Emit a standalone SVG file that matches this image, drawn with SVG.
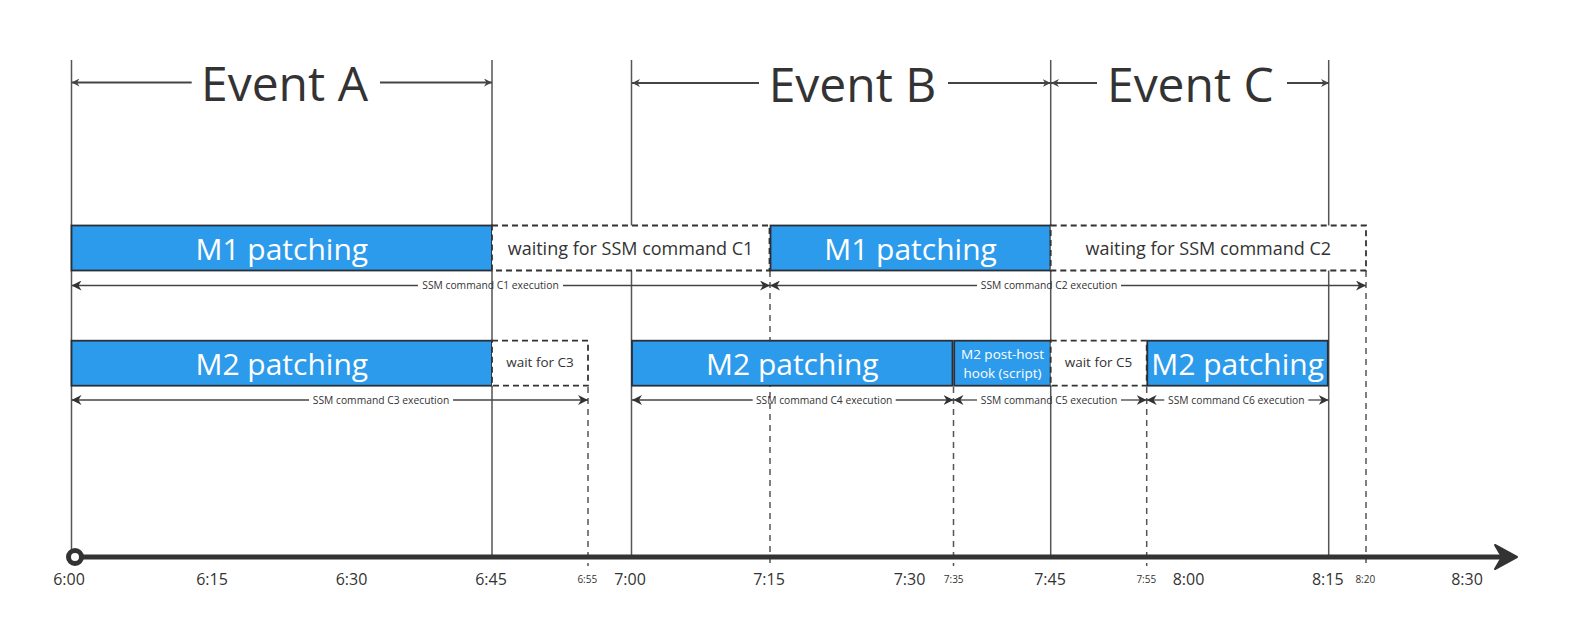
<svg xmlns="http://www.w3.org/2000/svg" width="1578" height="633" viewBox="0 0 1578 633">
<style>
text{font-family:"Open Sans","Noto Sans",sans-serif;fill:#333}
.ev{font-size:48px;text-anchor:middle}
.big{font-size:30px;fill:#fff;text-anchor:middle}
.wait{font-size:18px;text-anchor:middle}
.sm{font-size:13.5px;text-anchor:middle}
.hook{font-size:13.5px;fill:#fff;text-anchor:middle}
.dl{font-size:10.3px;text-anchor:middle}
.tk{font-size:16px;text-anchor:middle}
.tks{font-size:10px;text-anchor:middle}
.solid{stroke:#555;stroke-width:1.5;fill:none}
.dash{stroke:#555;stroke-width:1.5;stroke-dasharray:6 5;fill:none}
.blue{fill:#2d9bec;stroke:#2a2f36;stroke-width:1.8}
.dbox{fill:#fff;stroke:#333;stroke-width:1.8;stroke-dasharray:6 4}
.hd{stroke:#444;stroke-width:1.8;fill:none}
.dim{stroke:#444;stroke-width:1.3;fill:none}
</style>
<defs>
<marker id="ah" markerUnits="userSpaceOnUse" markerWidth="10" markerHeight="10" refX="10" refY="5" orient="auto-start-reverse" viewBox="0 0 10 10">
<path d="M0,0 L10,5 L0,10 L3,5 Z" fill="#333"/>
</marker>
<marker id="hh" markerUnits="userSpaceOnUse" markerWidth="8" markerHeight="8" refX="8" refY="4" orient="auto-start-reverse" viewBox="0 0 8 8">
<path d="M0,0 L8,4 L0,8 L2.5,4 Z" fill="#444"/>
</marker>
</defs>
<rect width="1578" height="633" fill="#fff"/>

<g id="gridlines">
<line class="solid" x1="71.5" y1="60" x2="71.5" y2="555"/>
<line class="solid" x1="492" y1="60" x2="492" y2="555"/>
<line class="solid" x1="631.5" y1="60" x2="631.5" y2="555"/>
<line class="solid" x1="1050.7" y1="60" x2="1050.7" y2="555"/>
<line class="solid" x1="1328.7" y1="60" x2="1328.7" y2="555"/>
<line class="dash" x1="588" y1="387" x2="588" y2="566"/>
<line class="dash" x1="770" y1="271" x2="770" y2="566"/>
<line class="dash" x1="953.5" y1="387" x2="953.5" y2="566"/>
<line class="dash" x1="1146.7" y1="387" x2="1146.7" y2="566"/>
<line class="dash" x1="1366" y1="271" x2="1366" y2="566"/>
</g>

<g id="eventA">
<line class="hd" x1="191.7" y1="82.5" x2="71.5" y2="82.5" marker-end="url(#hh)"/>
<line class="hd" x1="380" y1="82.5" x2="492" y2="82.5" marker-end="url(#hh)"/>
<text class="ev" x="284.5" y="100.5">Event A</text>
</g>
<g id="eventB">
<line class="hd" x1="759" y1="83" x2="632" y2="83" marker-end="url(#hh)"/>
<line class="hd" x1="948" y1="83" x2="1050.7" y2="83" marker-end="url(#hh)"/>
<text class="ev" x="852.5" y="101.5">Event B</text>
</g>
<g id="eventC">
<line class="hd" x1="1097" y1="83" x2="1051" y2="83" marker-end="url(#hh)"/>
<line class="hd" x1="1287" y1="83" x2="1329" y2="83" marker-end="url(#hh)"/>
<text class="ev" x="1190.4" y="101.5">Event C</text>
</g>

<g id="m1-patch-1">
<rect class="blue" x="71.5" y="225.5" width="420.5" height="45"/>
<text class="big" x="281.75" y="260">M1 patching</text>
</g>
<g id="wait-c1">
<rect class="dbox" x="492" y="225.5" width="277.5" height="45"/>
<text class="wait" x="630.5" y="255">waiting for SSM command C1</text>
</g>
<g id="m1-patch-2">
<rect class="blue" x="770.5" y="225.5" width="280" height="45"/>
<text class="big" x="910.5" y="260">M1 patching</text>
</g>
<g id="wait-c2">
<rect class="dbox" x="1050.7" y="225.5" width="315.3" height="45"/>
<text class="wait" x="1208.3" y="255">waiting for SSM command C2</text>
</g>

<g id="m2-patch-1">
<rect class="blue" x="71.5" y="340.7" width="420.5" height="45"/>
<text class="big" x="281.75" y="375">M2 patching</text>
</g>
<g id="wait-c3">
<rect class="dbox" x="492" y="340.7" width="96" height="45"/>
<text class="sm" x="540" y="367.3">wait for C3</text>
</g>
<g id="m2-patch-2">
<rect class="blue" x="632" y="340.7" width="320.5" height="45"/>
<text class="big" x="792.3" y="375">M2 patching</text>
</g>
<g id="m2-hook">
<rect class="blue" x="954.2" y="340.7" width="96.5" height="45"/>
<text class="hook" x="1002.5" y="359">M2 post-host</text>
<text class="hook" x="1002.5" y="377.7">hook (script)</text>
</g>
<g id="wait-c5">
<rect class="dbox" x="1050.7" y="340.7" width="96" height="45"/>
<text class="sm" x="1098.5" y="367.3">wait for C5</text>
</g>
<g id="m2-patch-3">
<rect class="blue" x="1147.3" y="340.7" width="180.5" height="45"/>
<text class="big" x="1237.6" y="375">M2 patching</text>
</g>

<g id="connectors">
<line class="dim" x1="418" y1="285.5" x2="71.5" y2="285.5" marker-end="url(#ah)"/>
<line class="dim" x1="563" y1="285.5" x2="770" y2="285.5" marker-end="url(#ah)"/>
<text class="dl" x="490.5" y="289.2">SSM command C1 execution</text>
<line class="dim" x1="977" y1="285.5" x2="770" y2="285.5" marker-end="url(#ah)"/>
<line class="dim" x1="1121" y1="285.5" x2="1366" y2="285.5" marker-end="url(#ah)"/>
<text class="dl" x="1049" y="289.2">SSM command C2 execution</text>

<line class="dim" x1="309" y1="400" x2="71.5" y2="400" marker-end="url(#ah)"/>
<line class="dim" x1="453" y1="400" x2="588" y2="400" marker-end="url(#ah)"/>
<text class="dl" x="381" y="403.7">SSM command C3 execution</text>
<line class="dim" x1="752.7" y1="400" x2="632" y2="400" marker-end="url(#ah)"/>
<line class="dim" x1="895.7" y1="400" x2="953.5" y2="400" marker-end="url(#ah)"/>
<text class="dl" x="824.2" y="403.7">SSM command C4 execution</text>
<line class="dim" x1="977" y1="400" x2="953.5" y2="400" marker-end="url(#ah)"/>
<line class="dim" x1="1121" y1="400" x2="1146.7" y2="400" marker-end="url(#ah)"/>
<text class="dl" x="1049" y="403.7">SSM command C5 execution</text>
<line class="dim" x1="1164.3" y1="400" x2="1146.7" y2="400" marker-end="url(#ah)"/>
<line class="dim" x1="1308.3" y1="400" x2="1328.7" y2="400" marker-end="url(#ah)"/>
<text class="dl" x="1236.3" y="403.7">SSM command C6 execution</text>
</g>

<g id="axis">
<line x1="81" y1="557" x2="1505" y2="557" stroke="#333" stroke-width="5"/>
<path d="M1495,545 L1517,557 L1495,569 L1502,557 Z" fill="#333" stroke="#333" stroke-width="2" stroke-linejoin="round"/>
<circle cx="75" cy="557" r="6.5" fill="#fff" stroke="#333" stroke-width="5"/>
<text class="tk" x="69" y="585">6:00</text>
<text class="tk" x="212" y="585">6:15</text>
<text class="tk" x="351.5" y="585">6:30</text>
<text class="tk" x="491" y="585">6:45</text>
<text class="tks" x="587.3" y="582.7">6:55</text>
<text class="tk" x="630" y="585">7:00</text>
<text class="tk" x="769" y="585">7:15</text>
<text class="tk" x="909.5" y="585">7:30</text>
<text class="tks" x="953.7" y="582.7">7:35</text>
<text class="tk" x="1050" y="585">7:45</text>
<text class="tks" x="1146.3" y="582.7">7:55</text>
<text class="tk" x="1188.5" y="585">8:00</text>
<text class="tk" x="1327.8" y="585">8:15</text>
<text class="tks" x="1365.3" y="582.7">8:20</text>
<text class="tk" x="1467" y="585">8:30</text>
</g>
</svg>
